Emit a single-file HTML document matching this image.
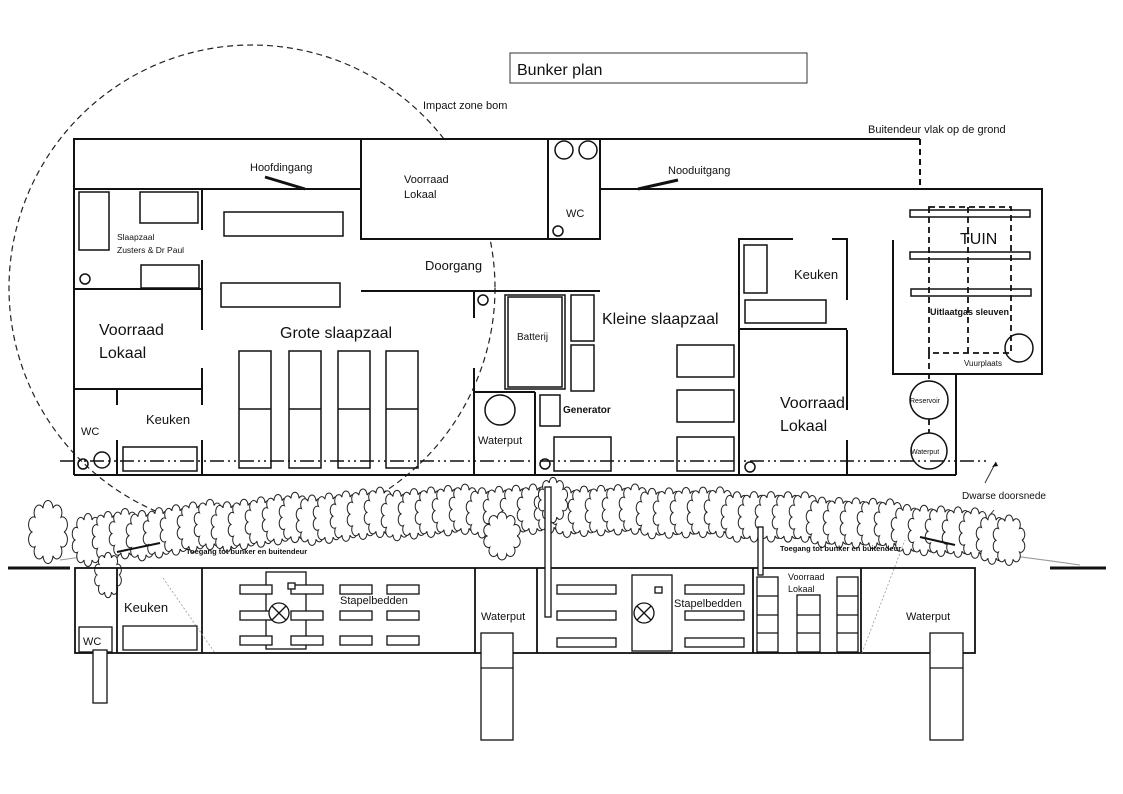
<!DOCTYPE html>
<html><head><meta charset="utf-8"><style>
body{margin:0;background:#fff}
svg{display:block}
text{font-family:"Liberation Sans",sans-serif;fill:#111}
</style></head><body>
<svg id="s" width="1123" height="794" viewBox="0 0 1123 794" xmlns="http://www.w3.org/2000/svg">
<rect width="1123" height="794" fill="#fff"/>
<rect x="510" y="53" width="297" height="30" fill="none" stroke="#333" stroke-width="1"/>
<text x="517" y="75" font-size="16">Bunker plan</text>
<text x="423" y="109" font-size="11">Impact zone bom</text>
<text x="868" y="133" font-size="11">Buitendeur vlak op de grond</text>
<circle cx="252" cy="288" r="243" fill="none" stroke="#222" stroke-width="1.2" stroke-dasharray="6,4"/>
<g fill="none" stroke="#111" stroke-width="2">
<polyline points="74,189 74,139 548,139"/>
<line x1="74" y1="189" x2="361" y2="189"/>
<rect x="361" y="139" width="187" height="100" fill="#fff"/>
<rect x="548" y="139" width="52" height="100" fill="#fff"/>
<polyline points="600,139 920,139"/>
<line x1="600" y1="189" x2="893" y2="189"/>
<line x1="920" y1="139" x2="920" y2="189" stroke-dasharray="6,4"/>
<line x1="74" y1="189" x2="74" y2="475"/>
<line x1="74" y1="475" x2="956" y2="475"/>
<line x1="202" y1="189" x2="202" y2="230"/>
<line x1="202" y1="260" x2="202" y2="330"/>
<line x1="202" y1="368" x2="202" y2="405"/>
<line x1="202" y1="440" x2="202" y2="475"/>
<line x1="74" y1="289" x2="202" y2="289"/>
<line x1="74" y1="389" x2="202" y2="389"/>
<line x1="117" y1="389" x2="117" y2="405"/>
<line x1="117" y1="440" x2="117" y2="475"/>
<line x1="361" y1="291" x2="600" y2="291"/>
<line x1="474" y1="291" x2="474" y2="318"/>
<line x1="474" y1="368" x2="474" y2="475"/>
<line x1="474" y1="392" x2="535" y2="392"/>
<line x1="535" y1="392" x2="535" y2="475"/>
<polyline points="793,239 739,239 739,475"/>
<polyline points="832,239 847,239 847,300"/>
<line x1="847" y1="330" x2="847" y2="410"/>
<line x1="847" y1="440" x2="847" y2="475"/>
<line x1="739" y1="329" x2="847" y2="329"/>
<polyline points="893,189 1042,189 1042,374 893,374 893,240"/>
<polyline points="893,374 956,374 956,475"/>
</g>
<g fill="none" stroke="#111" stroke-width="1.5">
<rect x="79" y="192" width="30" height="58"/>
<rect x="140" y="192" width="58" height="31"/>
<rect x="141" y="265" width="58" height="23"/>
<circle cx="85" cy="279" r="5"/>
<rect x="224" y="212" width="119" height="24"/>
<rect x="221" y="283" width="119" height="24"/>
<rect x="239" y="351" width="32" height="117"/><line x1="239" y1="409" x2="271" y2="409"/>
<rect x="289" y="351" width="32" height="117"/><line x1="289" y1="409" x2="321" y2="409"/>
<rect x="338" y="351" width="32" height="117"/><line x1="338" y1="409" x2="370" y2="409"/>
<rect x="386" y="351" width="32" height="117"/><line x1="386" y1="409" x2="418" y2="409"/>
<rect x="123" y="447" width="74" height="24"/>
<circle cx="102" cy="460" r="8"/>
<circle cx="83" cy="464" r="5"/>
<circle cx="483" cy="300" r="5"/>
<circle cx="500" cy="410" r="15"/>
<rect x="505" y="295" width="60" height="94"/>
<rect x="508" y="297" width="54" height="90"/>
<rect x="571" y="295" width="23" height="46"/>
<rect x="571" y="345" width="23" height="46"/>
<rect x="540" y="395" width="20" height="31"/>
<rect x="554" y="437" width="57" height="34"/>
<circle cx="545" cy="464" r="5"/>
<circle cx="564" cy="150" r="9"/><circle cx="588" cy="150" r="9"/>
<circle cx="558" cy="231" r="5"/>
<rect x="677" y="345" width="57" height="32"/>
<rect x="677" y="390" width="57" height="32"/>
<rect x="677" y="437" width="57" height="34"/>
<circle cx="750" cy="467" r="5"/>
<rect x="744" y="245" width="23" height="48"/>
<rect x="745" y="300" width="81" height="23"/>
<rect x="910" y="210" width="120" height="7"/>
<rect x="910" y="252" width="120" height="7"/>
<rect x="911" y="289" width="120" height="7"/>
<circle cx="1019" cy="348" r="14"/>
<circle cx="929" cy="400" r="19"/>
<circle cx="929" cy="451" r="18"/>
</g>
<g fill="none" stroke="#111" stroke-width="1.8" stroke-dasharray="6,4">
<rect x="929" y="207" width="82" height="146"/>
<line x1="968" y1="207" x2="968" y2="353"/>
<line x1="929" y1="353" x2="929" y2="381"/>
<line x1="929" y1="419" x2="929" y2="433"/>
</g>
<line x1="265" y1="177" x2="305" y2="189" stroke="#111" stroke-width="3"/>
<line x1="638" y1="189" x2="678" y2="180" stroke="#111" stroke-width="3"/>
<line x1="60" y1="461" x2="990" y2="461" stroke="#111" stroke-width="1.5" stroke-dasharray="14,4,2,4,2,4"/>
<line x1="985" y1="483" x2="996" y2="462" stroke="#333" stroke-width="1"/>
<polygon points="996,462 992,467 998,466" fill="#111"/>
<line x1="990" y1="515" x2="994" y2="510" stroke="#333"/>
<text x="250" y="171" font-size="11">Hoofdingang</text>
<text x="404" y="183" font-size="11">Voorraad</text>
<text x="404" y="198" font-size="11">Lokaal</text>
<text x="425" y="270" font-size="13">Doorgang</text>
<text x="117" y="240" font-size="8.5">Slaapzaal</text>
<text x="117" y="253" font-size="8.5">Zusters &amp; Dr Paul</text>
<text x="99" y="335" font-size="16">Voorraad</text>
<text x="99" y="358" font-size="16">Lokaal</text>
<text x="280" y="338" font-size="16">Grote slaapzaal</text>
<text x="146" y="424" font-size="13">Keuken</text>
<text x="81" y="435" font-size="11">WC</text>
<text x="517" y="340" font-size="10">Batterij</text>
<text x="563" y="413" font-size="10" font-weight="bold">Generator</text>
<text x="478" y="444" font-size="11">Waterput</text>
<text x="566" y="217" font-size="11">WC</text>
<text x="668" y="174" font-size="11">Nooduitgang</text>
<text x="602" y="324" font-size="16">Kleine slaapzaal</text>
<text x="794" y="279" font-size="13">Keuken</text>
<text x="780" y="408" font-size="16">Voorraad</text>
<text x="780" y="431" font-size="16">Lokaal</text>
<text x="960" y="244" font-size="16">TUIN</text>
<text x="930" y="315" font-size="9" font-weight="bold">Uitlaatgas sleuven</text>
<text x="964" y="366" font-size="8">Vuurplaats</text>
<text x="910" y="403" font-size="7">Reservoir</text>
<text x="911" y="454" font-size="7">Waterput</text>
<text x="962" y="499" font-size="10">Dwarse doorsnede</text>
<path d="M60,560 Q560,490 1080,565" fill="none" stroke="#999" stroke-width="1"/>
<g id="trees" fill="#fff" stroke="#222" stroke-width="1"></g>
<line x1="8" y1="568" x2="70" y2="568" stroke="#111" stroke-width="3"/>
<line x1="1050" y1="568" x2="1106" y2="568" stroke="#111" stroke-width="3"/>
<g fill="none" stroke="#111" stroke-width="1.8">
<rect x="75" y="568" width="900" height="85"/>
<line x1="117" y1="568" x2="117" y2="653"/>
<line x1="202" y1="568" x2="202" y2="653"/>
<line x1="475" y1="568" x2="475" y2="653"/>
<line x1="537" y1="568" x2="537" y2="653"/>
<line x1="753" y1="568" x2="753" y2="653"/>
<line x1="861" y1="568" x2="861" y2="653"/>
</g>
<g fill="#fff" stroke="#111" stroke-width="1.3">
<rect x="79" y="627" width="33" height="25"/>
<rect x="93" y="650" width="14" height="53"/>
<rect x="123" y="626" width="74" height="24"/>
<rect x="481" y="633" width="32" height="107"/><line x1="481" y1="668" x2="513" y2="668"/>
<rect x="930" y="633" width="33" height="107"/><line x1="930" y1="668" x2="963" y2="668"/>
<rect x="266" y="572" width="40" height="77" fill="none"/>
<rect x="632" y="575" width="40" height="76" fill="none"/>
<rect x="240" y="585" width="32" height="9"/><rect x="291" y="585" width="32" height="9"/><rect x="340" y="585" width="32" height="9"/><rect x="387" y="585" width="32" height="9"/>
<rect x="240" y="611" width="32" height="9"/><rect x="291" y="611" width="32" height="9"/><rect x="340" y="611" width="32" height="9"/><rect x="387" y="611" width="32" height="9"/>
<rect x="240" y="636" width="32" height="9"/><rect x="291" y="636" width="32" height="9"/><rect x="340" y="636" width="32" height="9"/><rect x="387" y="636" width="32" height="9"/>
<rect x="557" y="585" width="59" height="9"/><rect x="685" y="585" width="59" height="9"/>
<rect x="557" y="611" width="59" height="9"/><rect x="685" y="611" width="59" height="9"/>
<rect x="557" y="638" width="59" height="9"/><rect x="685" y="638" width="59" height="9"/>
<circle cx="279" cy="613" r="10"/><path d="M272,606 L286,620 M286,606 L272,620" fill="none"/>
<circle cx="644" cy="613" r="10"/><path d="M637,606 L651,620 M651,606 L637,620" fill="none"/>
<rect x="288" y="583" width="7" height="6"/><rect x="655" y="587" width="7" height="6"/>
<rect x="757" y="577" width="21" height="75"/><line x1="757" y1="596" x2="778" y2="596"/><line x1="757" y1="615" x2="778" y2="615"/><line x1="757" y1="633" x2="778" y2="633"/>
<rect x="797" y="595" width="23" height="57"/><line x1="797" y1="615" x2="820" y2="615"/><line x1="797" y1="633" x2="820" y2="633"/>
<rect x="837" y="577" width="21" height="75"/><line x1="837" y1="596" x2="858" y2="596"/><line x1="837" y1="615" x2="858" y2="615"/><line x1="837" y1="633" x2="858" y2="633"/>
<rect x="545" y="487" width="6" height="130"/>
<rect x="758" y="527" width="5" height="48"/>
</g>
<path d="M163,578 L215,653 M862,653 L905,540" stroke="#999" stroke-width="0.8" fill="none" stroke-dasharray="2,2"/>
<line x1="117" y1="552" x2="160" y2="543" stroke="#111" stroke-width="2"/>
<line x1="920" y1="537" x2="955" y2="545" stroke="#111" stroke-width="2"/>
<text x="186" y="554" font-size="7.5" font-weight="bold">Toegang tot bunker en buitendeur</text>
<text x="780" y="551" font-size="7.5" font-weight="bold">Toegang tot bunker en buitendeur</text>
<text x="124" y="612" font-size="13">Keuken</text>
<text x="83" y="645" font-size="11">WC</text>
<text x="340" y="604" font-size="11">Stapelbedden</text>
<text x="674" y="607" font-size="11">Stapelbedden</text>
<text x="481" y="620" font-size="11">Waterput</text>
<text x="906" y="620" font-size="11">Waterput</text>
<text x="788" y="580" font-size="9">Voorraad</text>
<text x="788" y="592" font-size="9">Lokaal</text>
</svg>
<script>
(function(){
var g=document.getElementById('trees'),ns='http://www.w3.org/2000/svg';
function y(x){var t=(x-60)/1020;return (1-t)*(1-t)*560+2*(1-t)*t*490+t*t*565;}
function tree(cx,cy,w,h){
 var e=document.createElementNS(ns,'path');
 var pts=[];for(var i=0;i<=10;i++){var a=i/10*2*Math.PI;pts.push([cx+w/2*Math.cos(a),cy+h/2*Math.sin(a)]);}
 var d='M'+pts[0][0]+','+pts[0][1];
 for(var i=1;i<pts.length;i++){d+=' A'+(w/7)+','+(h/7)+' 0 0 1 '+pts[i][0]+','+pts[i][1];}
 e.setAttribute('d',d);g.appendChild(e);
}
tree(48,532,32,50);tree(88,540,26,42);
for(var x=108;x<=1020;x+=17){var yy=y(x)-18+((x*7)%5);tree(x,yy,26,40);}
tree(502,536,30,38);tree(553,500,24,36);tree(108,575,22,36);
})();
</script>
</body></html>
